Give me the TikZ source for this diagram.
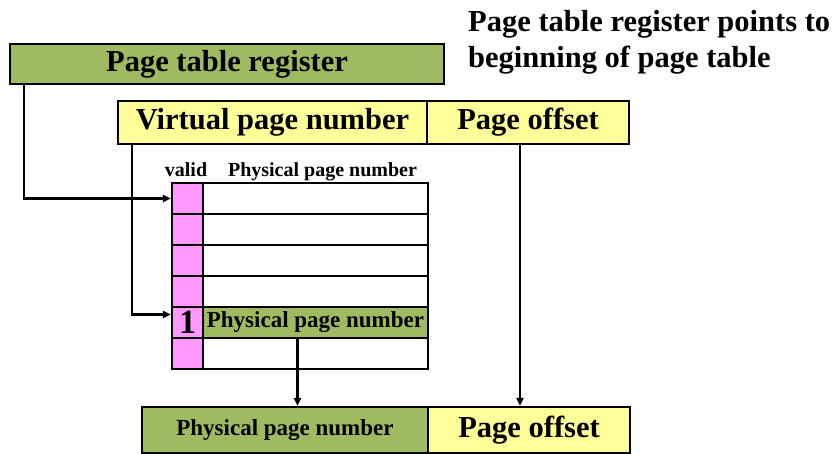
\documentclass[tikz,border=0pt]{standalone}
\usepackage{fontspec}
\setmainfont{Liberation Serif}
\usetikzlibrary{arrows.meta}
\definecolor{ptgreen}{RGB}{158,187,98}
\definecolor{ptyellow}{RGB}{255,255,153}
\definecolor{ptpink}{RGB}{255,153,255}
\begin{document}
\begin{tikzpicture}[x=1pt,y=-1pt,
  box/.style={draw=black, line width=2.2pt, inner sep=0pt, font=\bfseries},
  big/.style={font=\bfseries\fontsize{30.5}{36}\selectfont},
  vcell/.style={box, fill=ptpink, minimum width=31pt, minimum height=31pt},
  pcell/.style={box, fill=white, minimum width=225pt, minimum height=31pt},
  arr/.style={line width=2.2pt, -{Triangle[length=8pt,width=7pt]}}]
\useasboundingbox (0,0) rectangle (839,454);

\node[big, align=left, anchor=north west, inner sep=0pt] (title) at (468,10)
  {Page table register points to\\beginning of page table};

\node[box, big, fill=ptgreen, minimum width=434pt, minimum height=40pt] (ptr) at (227,64) {Page table register};

\node[box, big, fill=ptyellow, minimum width=309pt, minimum height=43pt] (vpn) at (272.5,122.5) {Virtual page number};
\node[box, big, fill=ptyellow, minimum width=202pt, minimum height=43pt] (off) at (528,122.5) {Page offset};

\node[font=\bfseries\fontsize{20}{24}\selectfont, anchor=base, inner sep=0pt] (validlbl) at (186,177) {valid};
\node[font=\bfseries\fontsize{20}{24}\selectfont, anchor=base, inner sep=0pt] (ppnlbl) at (322.5,177) {Physical page number};

\foreach \i in {1,...,6} {
  \pgfmathsetmacro{\yc}{183+31*(\i-1)+15.5}
  \node[vcell] (v\i) at (187.5,\yc) {};
  \node[pcell] (p\i) at (315.5,\yc) {};
}
\node[box, fill=ptgreen, minimum width=225pt, minimum height=31pt, font=\bfseries\fontsize{23}{27}\selectfont] (p5) at (315.5,322.5) {Physical page number};
\node[font=\bfseries\fontsize{34}{40}\selectfont, inner sep=0pt] (one) at (v5) {1};

\node[box, fill=ptgreen, minimum width=286pt, minimum height=46pt, font=\bfseries\fontsize{23}{27}\selectfont] (out1) at (285,430) {Physical page number};
\node[box, big, fill=ptyellow, minimum width=202pt, minimum height=46pt] (out2) at (529,430) {Page offset};

\draw[arr] ([xshift=15pt]ptr.south west) |- (v1.west);
\draw[arr] ([xshift=15pt]vpn.south west) |- ([yshift=8pt]v5.west);
\draw[arr] ([xshift=-8pt]off.south) coordinate (o1) -- (o1 |- out2.north);
\draw[arr] ([xshift=-18pt]p5.south) coordinate (q1) -- (q1 |- out1.north);
\end{tikzpicture}
\end{document}
